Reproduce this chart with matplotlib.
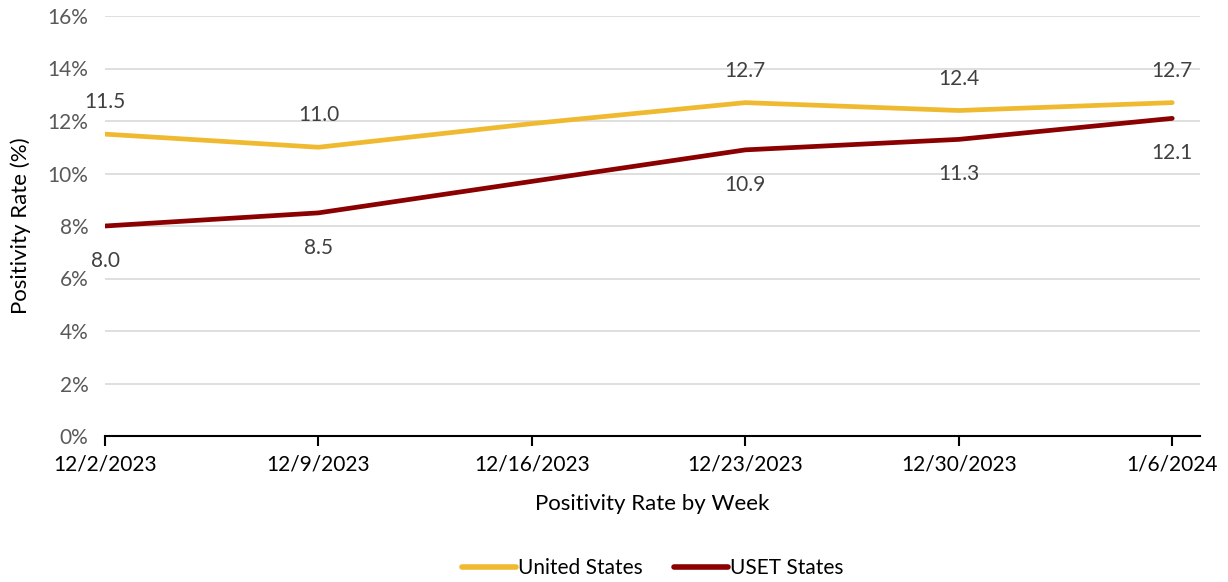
import matplotlib
matplotlib.use("Agg")
import matplotlib.pyplot as plt
from matplotlib.ticker import FuncFormatter

# data
weeks = ["12/2/2023", "12/9/2023", "12/16/2023", "12/23/2023", "12/30/2023", "1/6/2024"]
us_rate = [11.5, 11.0, 11.9, 12.7, 12.4, 12.7]
uset_rate = [8.0, 8.5, 9.7, 10.9, 11.3, 12.1]
# 12/16 points carry no label in the original
us_labels = ["11.5", "11.0", "", "12.7", "12.4", "12.7"]
uset_labels = ["8.0", "8.5", "", "10.9", "11.3", "12.1"]

plt.rcParams['font.family'] = ['Lato', 'DejaVu Sans']

fig = plt.figure(figsize=(12.28, 5.82), dpi=100)
ax = fig.add_axes([105 / 1228, 1 - 436 / 582, (1200 - 105) / 1228, 420 / 582])

x = list(range(len(weeks)))
ax.plot(x, us_rate, color="#F0BA30", lw=3.4, label="United States", solid_capstyle="round")
ax.plot(x, uset_rate, color="#8B0000", lw=3.4, label="USET States", solid_capstyle="round")

for xi, v, t in zip(x, us_rate, us_labels):
    if t:
        ax.annotate(t, (xi, v), xytext=(0, 23), textcoords="offset points",
                    ha="center", va="center", fontsize=15, color="#404040")
for xi, v, t in zip(x, uset_rate, uset_labels):
    if t:
        ax.annotate(t, (xi, v), xytext=(0, -25), textcoords="offset points",
                    ha="center", va="center", fontsize=15, color="#404040")

ax.set_xlim(0, 5.13)
ax.set_ylim(0, 16)
ax.set_yticks(range(0, 17, 2))
ax.yaxis.set_major_formatter(FuncFormatter(lambda v, p: f"{v:.0f}%"))
ax.set_xticks(x)
ax.set_xticklabels(weeks)

ax.grid(axis="y", color="#D9D9D9", lw=1.2)
ax.set_axisbelow(True)
for s in ["top", "right", "left"]:
    ax.spines[s].set_visible(False)
ax.spines["bottom"].set_color("black")
ax.spines["bottom"].set_linewidth(1.5)
ax.tick_params(axis="y", length=0, labelsize=15, labelcolor="#595959", pad=12)
ax.tick_params(axis="x", length=7, width=1.5, labelsize=15, labelcolor="black", pad=6)

ax.set_xlabel("Positivity Rate by Week", fontsize=16, labelpad=14)
ax.set_ylabel("Positivity Rate (%)", fontsize=16, labelpad=12)

leg = ax.legend(loc="center", bbox_to_anchor=(0.5, -0.315), ncol=2, frameon=False,
                fontsize=15, handlelength=2.6, handletextpad=0.1, columnspacing=1.5)
for h in leg.get_lines():
    h.set_linewidth(4)

fig.savefig("out.png", dpi=100)
